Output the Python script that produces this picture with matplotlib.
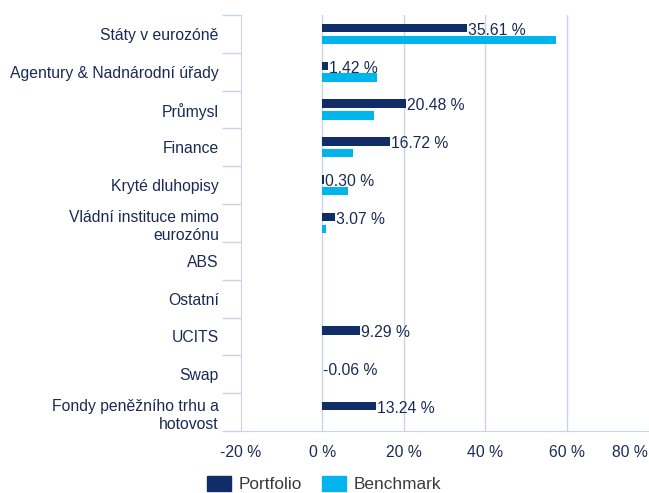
import matplotlib
matplotlib.use("Agg")
import matplotlib.pyplot as plt
import numpy as np
from matplotlib.patches import Patch

categories = ["Státy v eurozóně", "Agentury & Nadnárodní úřady", "Průmysl", "Finance",
              "Kryté dluhopisy", "Vládní instituce mimo\neurozónu", "ABS", "Ostatní",
              "UCITS", "Swap", "Fondy peněžního trhu a\nhotovost"]
portfolio = [35.61, 1.42, 20.48, 16.72, 0.30, 3.07, 0.0, 0.0, 9.29, -0.06, 13.24]
benchmark = [57.4, 13.3, 12.7, 7.6, 6.25, 0.8, 0.0, 0.0, 0.0, 0.0, 0.0]
labels = ["35.61 %", "1.42 %", "20.48 %", "16.72 %", "0.30 %", "3.07 %", "", "",
          "9.29 %", "-0.06 %", "13.24 %"]
xticks = [-20, 0, 20, 40, 60, 80]
xticklabels = ["-20 %", "0 %", "20 %", "40 %", "60 %", "80 %"]

NAVY = "#112d67"
CYAN = "#00b4ec"
TEXT = "#1b2a55"
LEGTEXT = "#3a3a3a"
GRID = "#c9d5e6"

plt.rcParams['font.family'] = ['Liberation Sans', 'DejaVu Sans']
fs = 11.3

fig = plt.figure(figsize=(6.49, 4.93), dpi=100)
ax = fig.add_axes([241/649, 62/493, 407/649, (431-15)/493])

y = np.arange(len(categories))
h = 0.225
off = 0.155
ax.barh(y - off, portfolio, height=h, color=NAVY, zorder=3)
ax.barh(y + off, benchmark, height=h, color=CYAN, zorder=3)

for yi, v, t in zip(y, portfolio, labels):
    if t:
        ax.text(max(v, 0) + 0.25, yi - off + 0.06, t, va="center", ha="left",
                color=TEXT, fontsize=fs, zorder=4)

ax.set_xlim(-20, 80)
ax.set_ylim(len(categories) - 0.5, -0.5)
ax.set_xticks(xticks)
ax.set_xticklabels(xticklabels, color=TEXT, fontsize=fs)
ax.get_xticklabels()[-1].set_horizontalalignment("right")
ax.tick_params(axis="x", length=0, pad=10)
ax.set_yticks(y)
ax.set_yticklabels(categories, color=TEXT, fontsize=fs, linespacing=1.3)
ax.tick_params(axis="y", which="major", length=0, pad=16)
ax.set_yticks(np.arange(-0.5, len(categories), 1), minor=True)
ax.tick_params(axis="y", which="minor", length=14, color=GRID, width=1)

for g in [0, 20, 40, 60]:
    ax.axvline(g, color=GRID, lw=1, zorder=1)

for s in ["top", "right"]:
    ax.spines[s].set_visible(False)
ax.spines["left"].set_color(GRID)
ax.spines["bottom"].set_color(GRID)

handles = [Patch(color=NAVY, label="Portfolio"), Patch(color=CYAN, label="Benchmark")]
fig.legend(handles=handles, loc="center", bbox_to_anchor=(324/649, 1 - 484/493), ncol=2,
           frameon=False, fontsize=12.4, handlelength=1.4, handleheight=1.0,
           handletextpad=0.4, columnspacing=1.2, labelcolor=LEGTEXT,
           borderpad=0, borderaxespad=0)

fig.savefig("out.png", dpi=100)
